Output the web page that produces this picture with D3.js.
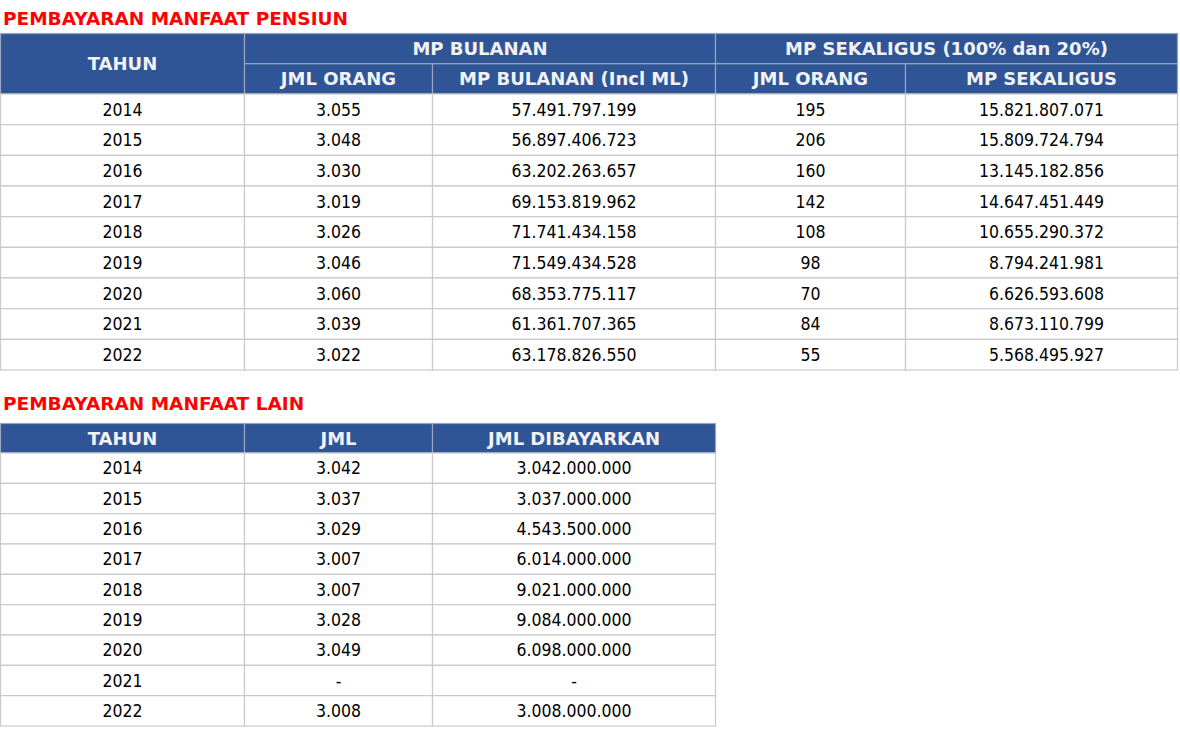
<!DOCTYPE html>
<html>
<head>
<meta charset="utf-8">
<script src="https://cdn.jsdelivr.net/npm/d3@7"></script>
<style>
  body { margin: 0; background: #fff; }
  text { font-family: "DejaVu Sans Condensed", "DejaVu Sans", sans-serif; }
  text.bold { font-family: "DejaVu Sans", sans-serif; font-weight: bold; }
</style>
</head>
<body>
<div id="chart"></div>
<script>
// ---- data ----
const years = [2014, 2015, 2016, 2017, 2018, 2019, 2020, 2021, 2022];

// Pembayaran manfaat pensiun
const bulananOrang = [3055, 3048, 3030, 3019, 3026, 3046, 3060, 3039, 3022];
const bulananNilai = [57491797199, 56897406723, 63202263657, 69153819962, 71741434158,
                      71549434528, 68353775117, 61361707365, 63178826550];
const sekaligusOrang = [195, 206, 160, 142, 108, 98, 70, 84, 55];
const sekaligusNilai = [15821807071, 15809724794, 13145182856, 14647451449, 10655290372,
                        8794241981, 6626593608, 8673110799, 5568495927];

// Pembayaran manfaat lain (null = "-")
const lainJml = [3042, 3037, 3029, 3007, 3007, 3028, 3049, null, 3008];
const lainDibayarkan = [3042000000, 3037000000, 4543500000, 6014000000, 9021000000,
                        9084000000, 6098000000, null, 3008000000];

const title1 = "PEMBAYARAN MANFAAT PENSIUN";
const title2 = "PEMBAYARAN MANFAAT LAIN";

// ---- layout / style ----
const width = 1180, height = 734;
const headBlue = "#2f5597";
const headText = "#f2f2f2";
const gridBody = "#c9c9c9";
const gridHead = "#9aa6bd";
const bodySize = 17.5;
const headSize = 18;

const idLocale = d3.formatLocale({ decimal: ",", thousands: ".", grouping: [3], currency: ["Rp", ""] });
const fmt = idLocale.format(",d");
const cellText = v => v == null ? "-" : fmt(v);

const svg = d3.select("#chart").append("svg")
  .attr("width", width)
  .attr("height", height)
  .attr("viewBox", [0, 0, width, height]);

// draws one table: column widths, header cells (col, row, colspan, rowspan), body rows
function drawTable(opt) {
  const edges = [opt.x0, ...d3.cumsum(opt.colWidths).map(d => d + opt.x0)];
  const headRows = d3.scaleBand().domain(d3.range(opt.headRowCount)).range([opt.top, opt.headBottom]);
  const bodyRows = d3.scaleBand().domain(d3.range(opt.rows.length)).range([opt.headBottom, opt.bottom]);

  const g = svg.append("g");

  // header
  const hc = g.append("g").selectAll("g").data(opt.header).join("g");
  hc.append("rect")
    .attr("x", d => edges[d.col])
    .attr("y", d => headRows(d.row))
    .attr("width", d => edges[d.col + (d.colspan || 1)] - edges[d.col])
    .attr("height", d => headRows.step() * (d.rowspan || 1))
    .attr("fill", headBlue)
    .attr("stroke", gridHead)
    .attr("stroke-width", 1.2);
  hc.append("text")
    .attr("class", "bold")
    .attr("x", d => (edges[d.col] + edges[d.col + (d.colspan || 1)]) / 2)
    .attr("y", d => headRows(d.row) + headRows.step() * (d.rowspan || 1) / 2)
    .attr("dy", "0.36em")
    .attr("text-anchor", "middle")
    .attr("font-size", headSize)
    .attr("fill", headText)
    .text(d => d.label);

  // body grid
  const cells = [];
  opt.rows.forEach((r, i) => r.forEach((v, j) => cells.push({ i, j, v })));
  g.append("g").selectAll("rect").data(cells).join("rect")
    .attr("x", d => edges[d.j])
    .attr("y", d => bodyRows(d.i))
    .attr("width", d => edges[d.j + 1] - edges[d.j])
    .attr("height", bodyRows.step())
    .attr("fill", "#fff")
    .attr("stroke", gridBody)
    .attr("stroke-width", 1.2);

  const txt = g.append("g").selectAll("text").data(cells).join("text")
    .attr("y", d => bodyRows(d.i) + bodyRows.step() / 2)
    .attr("dy", "0.36em")
    .attr("font-size", bodySize)
    .attr("fill", "#000")
    .text(d => d.v);

  // centred columns, "end" columns right aligned to the widest entry centred
  const maxW = {};
  txt.each(function (d) {
    const w = this.getComputedTextLength();
    maxW[d.j] = Math.max(maxW[d.j] || 0, w);
  });
  txt.attr("text-anchor", d => opt.align[d.j] === "end" ? "end" : "middle")
    .attr("x", d => {
      const c = (edges[d.j] + edges[d.j + 1]) / 2;
      return opt.align[d.j] === "end" ? c + maxW[d.j] / 2 : c;
    });
}

function drawTitle(label, y) {
  svg.append("text")
    .attr("class", "bold")
    .attr("x", 3)
    .attr("y", y)
    .attr("dy", "0.36em")
    .attr("font-size", 18.5)
    .attr("fill", "#ff0000")
    .text(label);
}

// ---- table 1 ----
drawTitle(title1, 18);
drawTable({
  x0: 0.5,
  colWidths: [244, 188, 283, 190, 272],
  top: 33.5, headBottom: 94, bottom: 370,
  headRowCount: 2,
  header: [
    { col: 0, row: 0, rowspan: 2, label: "TAHUN" },
    { col: 1, row: 0, colspan: 2, label: "MP BULANAN" },
    { col: 3, row: 0, colspan: 2, label: "MP SEKALIGUS (100% dan 20%)" },
    { col: 1, row: 1, label: "JML ORANG" },
    { col: 2, row: 1, label: "MP BULANAN (Incl ML)" },
    { col: 3, row: 1, label: "JML ORANG" },
    { col: 4, row: 1, label: "MP SEKALIGUS" }
  ],
  rows: years.map((y, i) => [String(y), cellText(bulananOrang[i]), cellText(bulananNilai[i]),
                             cellText(sekaligusOrang[i]), cellText(sekaligusNilai[i])]),
  align: ["middle", "middle", "middle", "middle", "end"]
});

// ---- table 2 ----
drawTitle(title2, 403);
drawTable({
  x0: 0.5,
  colWidths: [244, 188, 283],
  top: 423.5, headBottom: 453, bottom: 726,
  headRowCount: 1,
  header: [
    { col: 0, row: 0, label: "TAHUN" },
    { col: 1, row: 0, label: "JML" },
    { col: 2, row: 0, label: "JML DIBAYARKAN" }
  ],
  rows: years.map((y, i) => [String(y), cellText(lainJml[i]), cellText(lainDibayarkan[i])]),
  align: ["middle", "middle", "middle"]
});
</script>
</body>
</html>
